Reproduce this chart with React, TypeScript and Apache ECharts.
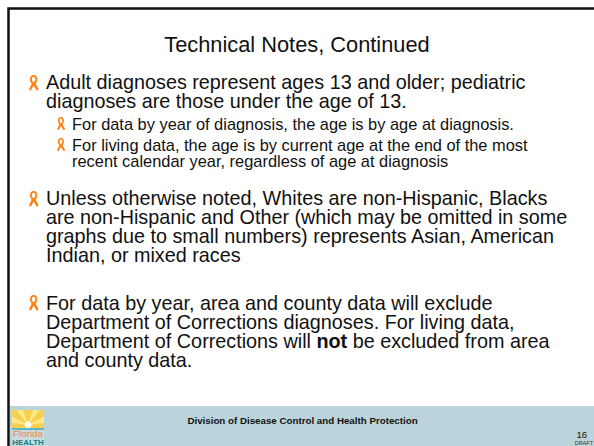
import React, { useEffect, useRef } from "react";
import * as echarts from "echarts";

const W = 594, H = 446;
const FONT = '"Liberation Sans", Arial, sans-serif';
const RIBBON = "M5 0C7.5 0 9 2 9 4.5C9 6.5 8 8 7.2 9.5L10.5 15.5L8.5 17L5 11.5L1.8 17L0 15.5L3 9.5C2 8 1 6.5 1 4.5C1 2 2.5 0 5 0ZM5 2C3.8 2 3 3.2 3 4.5C3 5.5 4 7 5 8.3C6 7 7 5.5 7 4.5C7 3.2 6.2 2 5 2Z";
echarts.graphic.registerShape("ribbon", (echarts.graphic as any).extendPath(RIBBON, {}));

const titleText = "Technical Notes, Continued";
const block1 = ["Adult diagnoses represent ages 13 and older; pediatric", "diagnoses are those under the age of 13."];
const block1a = ["For data by year of diagnosis, the age is by age at diagnosis."];
const block1b = ["For living data, the age is by current age at the end of the most", "recent calendar year, regardless of age at diagnosis"];
const block2 = ["Unless otherwise noted, Whites are non-Hispanic, Blacks", "are non-Hispanic and Other (which may be omitted in some", "graphs due to small numbers) represents Asian, American", "Indian, or mixed races"];
const block3a = "For data by year, area and county data will exclude";
const block3b = "Department of Corrections diagnoses. For living data,";
const block3c = ["Department of Corrections will ", "not", " be excluded from area"];
const block3d = "and county data.";
const footerText = "Division of Disease Control and Health Protection";
const pageNumber = "16";
const draftText = "DRAFT";

const big = 19.8, small = 16.4;
const txt = (x: number, y: number, text: string, fontSize: number, extra: any = {}) => ({
  type: "text", x, y,
  style: { text, fontSize, fontFamily: FONT, fill: "#111", textVerticalAlign: "middle", ...extra },
});
const lines = (x: number, yFirst: number, arr: string[], fontSize: number, lh: number) =>
  txt(x, yFirst + ((arr.length - 1) * lh) / 2, arr.join("\n"), fontSize, { lineHeight: lh });
const ribbon = (x: number, y: number, s: number) => ({
  type: "ribbon", x, y, scaleX: s, scaleY: s, style: { fill: "#ff7f11" },
});

export default function App() {
  const ref = useRef<HTMLDivElement>(null);
  useEffect(() => {
    document.body.style.margin = "0";
    const chart = echarts.init(ref.current!, undefined, { renderer: "svg" });
    const els: any[] = [
      { type: "rect", shape: { x: 0, y: 0, width: W, height: H }, style: { fill: "#fff" } },
      { type: "rect", shape: { x: 8.5, y: 8.5, width: 600, height: 500 }, style: { fill: "none", stroke: "#111", lineWidth: 2.5 } },
      { type: "rect", shape: { x: 10, y: 406, width: 584, height: 40 }, style: { fill: "#bbd3da" } },
      txt(297, 44, titleText, 21.8, { textAlign: "center" }),
    ];
    els.push(lines(46, 82, block1, big, 19));
    els.push(ribbon(29, 75, 0.92));
    els.push(ribbon(57, 117, 0.78));
    els.push(txt(72, 124, block1a[0], small));
    els.push(ribbon(57, 138, 0.78));
    els.push(lines(72, 145, block1b, small, 16));
    els.push(ribbon(29, 191, 0.92));
    els.push(lines(46, 198, block2, big, 19));
    els.push(ribbon(29, 295, 0.92));
    const normal = { fontSize: big, fontFamily: FONT, fill: "#111", lineHeight: 19 };
    els.push({
      type: "text", x: 46, y: 331.5,
      style: {
        text: [
          `{n|${block3a}}`,
          `{n|${block3b}}`,
          `{n|${block3c[0]}}{b|${block3c[1]}}{n|${block3c[2]}}`,
          `{n|${block3d}}`,
        ].join("\n"),
        ...normal,
        textVerticalAlign: "middle",
        rich: { n: normal, b: { ...normal, fontWeight: "bold" } },
      },
    });
    els.push(txt(302.5, 420, footerText, 9.75, { textAlign: "center", fontWeight: "bold" }));
    els.push(txt(587, 434, pageNumber, 9.5, { textAlign: "right" }));
    els.push(txt(593, 442.5, draftText, 5.5, { textAlign: "right", fill: "#333" }));
    // logo
    els.push({ type: "rect", shape: { x: 12, y: 410, width: 32, height: 36 }, style: { fill: "#f8cf4e" } });
    for (let a = -80; a <= 80; a += 32) {
      const r = (a * Math.PI) / 180, d = 0.11;
      const pt = (ang: number, len: number) => [
        Math.max(12, Math.min(44, 28 + Math.sin(ang) * len)),
        Math.max(410, 425 - Math.cos(ang) * len),
      ];
      els.push({ type: "polygon", shape: { points: [[28, 425], pt(r - d, 30), pt(r + d, 30)] }, style: { fill: "#fde98a" } });
    }
    els.push({ type: "circle", shape: { cx: 28, cy: 425, r: 3.6 }, style: { fill: "#fffbe6" } });
    els.push({ type: "rect", shape: { x: 12, y: 428, width: 32, height: 2 }, style: { fill: "#5bb7c5" } });
    els.push({ type: "rect", shape: { x: 12, y: 430, width: 32, height: 16 }, style: { fill: "#c6dce0" } });
    els.push(txt(28, 433.4, "Florida", 9.8, { textAlign: "center", fill: "#f08a3c" }));
    els.push(txt(28, 442.3, "HEALTH", 7.9, { textAlign: "center", fill: "#0b7f8c", fontWeight: "bold" }));
    chart.setOption({ animation: false, graphic: { elements: els } });
    return () => chart.dispose();
  }, []);
  return <div ref={ref} style={{ width: W, height: H, position: "absolute", left: 0, top: 0 }} />;
}
